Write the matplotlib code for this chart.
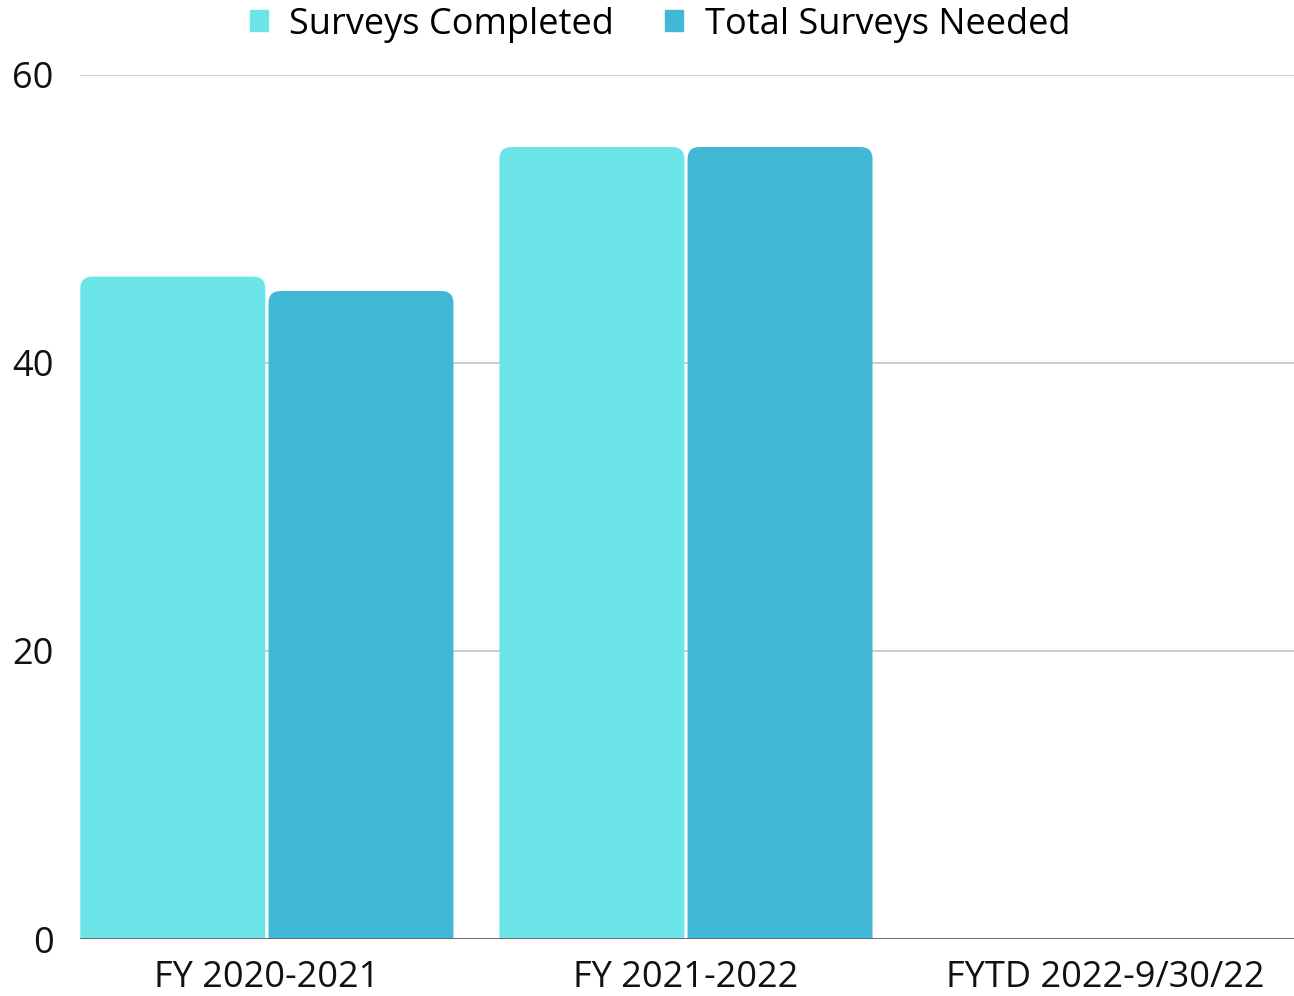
import matplotlib.pyplot as plt
from matplotlib.patches import PathPatch
from matplotlib.path import Path
import numpy as np

plt.rcParams['font.family'] = ['Open Sans', 'DejaVu Sans']

periods = ["FY 2020-2021", "FY 2021-2022", "FYTD 2022-9/30/22"]
completed = [46, 55, 0]
needed = [45, 55, 0]
series_names = ["Surveys Completed", "Total Surveys Needed"]
colors = ["#6CE5E8", "#41B8D5"]

fig = plt.figure(figsize=(12.94, 9.96), dpi=100)
ax = fig.add_axes([80 / 1294, 57 / 996, 1214 / 1294, 864 / 996])

x = np.arange(len(periods))
w = 0.4415
off = 0.2245

def top_rounded(x0, wd, h, rx, ry):
    # bar outline with only the two top corners rounded
    verts = [(x0, 0), (x0 + wd, 0), (x0 + wd, h - ry), (x0 + wd, h), (x0 + wd - rx, h),
             (x0 + rx, h), (x0, h), (x0, h - ry), (x0, 0)]
    codes = [Path.MOVETO, Path.LINETO, Path.LINETO, Path.CURVE3, Path.CURVE3,
             Path.LINETO, Path.CURVE3, Path.CURVE3, Path.CLOSEPOLY]
    return Path(verts, codes)

def rounded_bars(xpos, vals, color, label):
    bars = ax.bar(xpos, vals, w, color=color, label=label, zorder=3)
    rx, ry = 0.029, 0.85
    for r in bars:
        h = r.get_height()
        r.set_visible(False)
        if h <= 0:
            continue
        ax.add_patch(PathPatch(top_rounded(r.get_x(), r.get_width(), h, rx, ry),
                               facecolor=color, edgecolor="none", zorder=3))
    return bars

rounded_bars(x - off, completed, colors[0], series_names[0])
rounded_bars(x + off, needed, colors[1], series_names[1])

ax.set_xlim(-0.446, 2.451)
ax.set_ylim(0, 60)
ax.set_yticks([0, 20, 40, 60])
ax.set_xticks(x)
ax.set_xticklabels(periods)
ax.grid(axis="y", color="#c4c4c4", linewidth=1.2, zorder=0)
ax.axhline(0, color="#666666", linewidth=2, zorder=4)
for s in ax.spines.values():
    s.set_visible(False)
ax.tick_params(axis="both", length=0, labelsize=26, colors="#111111")
ax.tick_params(axis="y", pad=19)
ax.tick_params(axis="x", pad=15)

handles = [plt.Rectangle((0, 0), 1, 1, color=c) for c in colors]
fig.legend(handles, series_names, loc="upper center", bbox_to_anchor=(0.51, 1.026), ncol=2,
           frameon=False, fontsize=26, handlelength=0.5, handleheight=0.5,
           columnspacing=1.4, handletextpad=0.6)

fig.savefig("out.png", dpi=100)
